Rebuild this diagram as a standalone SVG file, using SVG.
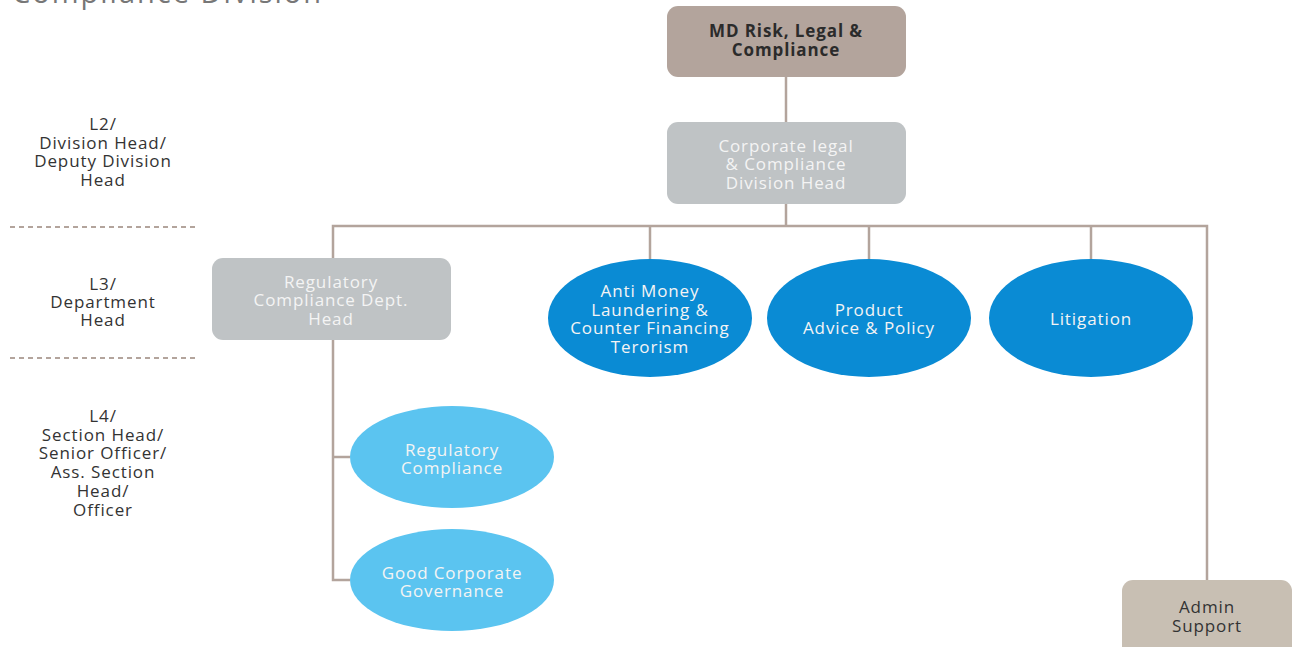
<svg xmlns="http://www.w3.org/2000/svg" width="1295" height="647" viewBox="0 0 1295 647">
<style>
.t{font-family:"Open Sans","DejaVu Sans",sans-serif;font-size:17px;letter-spacing:0.9px;text-anchor:middle}
.lbl{fill:#333333}
.w{fill:#f4f4f4}
.c{stroke:#b3a49c;stroke-width:2.5;fill:none}
.d{stroke:#b3a49c;stroke-width:2;stroke-dasharray:5 4;fill:none}
</style>
<rect width="1295" height="647" fill="#ffffff"/>
<text x="12" y="3" style="font-family:'Open Sans',sans-serif;font-size:29px;letter-spacing:2px;fill:#777">Compliance Division</text>
<g id="levels">
<text class="t lbl" x="103" y="130">L2/</text>
<text class="t lbl" x="103" y="149">Division Head/</text>
<text class="t lbl" x="103" y="167">Deputy Division</text>
<text class="t lbl" x="103" y="186">Head</text>
<line class="d" x1="10" y1="227" x2="198" y2="227"/>
<text class="t lbl" x="103" y="290">L3/</text>
<text class="t lbl" x="103" y="308">Department</text>
<text class="t lbl" x="103" y="326">Head</text>
<line class="d" x1="10" y1="358" x2="198" y2="358"/>
<text class="t lbl" x="103" y="422">L4/</text>
<text class="t lbl" x="103" y="441">Section Head/</text>
<text class="t lbl" x="103" y="459">Senior Officer/</text>
<text class="t lbl" x="103" y="478">Ass. Section</text>
<text class="t lbl" x="103" y="497">Head/</text>
<text class="t lbl" x="103" y="516">Officer</text>
</g>
<g id="connectors">
<line class="c" x1="786" y1="77" x2="786" y2="122"/>
<line class="c" x1="786" y1="204" x2="786" y2="226"/>
<polyline class="c" points="333,258 333,226 1207,226 1207,580"/>
<line class="c" x1="650" y1="226" x2="650" y2="259"/>
<line class="c" x1="869" y1="226" x2="869" y2="259"/>
<line class="c" x1="1091" y1="226" x2="1091" y2="259"/>
<polyline class="c" points="333,340 333,580 350,580"/>
<line class="c" x1="333" y1="457" x2="350" y2="457"/>
</g>
<g id="md">
<rect x="667" y="6" width="239" height="71" rx="11" fill="#b3a49c"/>
<text class="t" x="786" y="37" style="font-weight:bold;fill:#2b2b2b">MD Risk, Legal &amp;</text>
<text class="t" x="786" y="56" style="font-weight:bold;fill:#2b2b2b">Compliance</text>
</g>
<g id="divhead">
<rect x="667" y="122" width="239" height="82" rx="11" fill="#bfc3c5"/>
<text class="t w" x="786" y="152">Corporate legal</text>
<text class="t w" x="786" y="170">&amp; Compliance</text>
<text class="t w" x="786" y="189">Division Head</text>
</g>
<g id="regdept">
<rect x="212" y="258" width="239" height="82" rx="11" fill="#bfc3c5"/>
<text class="t w" x="331" y="288">Regulatory</text>
<text class="t w" x="331" y="306">Compliance Dept.</text>
<text class="t w" x="331" y="325">Head</text>
</g>
<g id="aml">
<ellipse cx="650" cy="318" rx="102" ry="59" fill="#0a8bd4"/>
<text class="t w" x="650" y="297">Anti Money</text>
<text class="t w" x="650" y="316">Laundering &amp;</text>
<text class="t w" x="650" y="334">Counter Financing</text>
<text class="t w" x="650" y="353">Terorism</text>
</g>
<g id="product">
<ellipse cx="869" cy="318" rx="102" ry="59" fill="#0a8bd4"/>
<text class="t w" x="869" y="316">Product</text>
<text class="t w" x="869" y="334">Advice &amp; Policy</text>
</g>
<g id="litigation">
<ellipse cx="1091" cy="318" rx="102" ry="59" fill="#0a8bd4"/>
<text class="t w" x="1091" y="325">Litigation</text>
</g>
<g id="regcomp">
<ellipse cx="452" cy="457" rx="102" ry="51" fill="#5bc4f0"/>
<text class="t w" x="452" y="456">Regulatory</text>
<text class="t w" x="452" y="474">Compliance</text>
</g>
<g id="gcg">
<ellipse cx="452" cy="580" rx="102" ry="51" fill="#5bc4f0"/>
<text class="t w" x="452" y="579">Good Corporate</text>
<text class="t w" x="452" y="597">Governance</text>
</g>
<g id="admin">
<rect x="1122" y="580" width="170" height="80" rx="11" fill="#c8bfb3"/>
<text class="t lbl" x="1207" y="613">Admin</text>
<text class="t lbl" x="1207" y="632">Support</text>
</g>
</svg>
